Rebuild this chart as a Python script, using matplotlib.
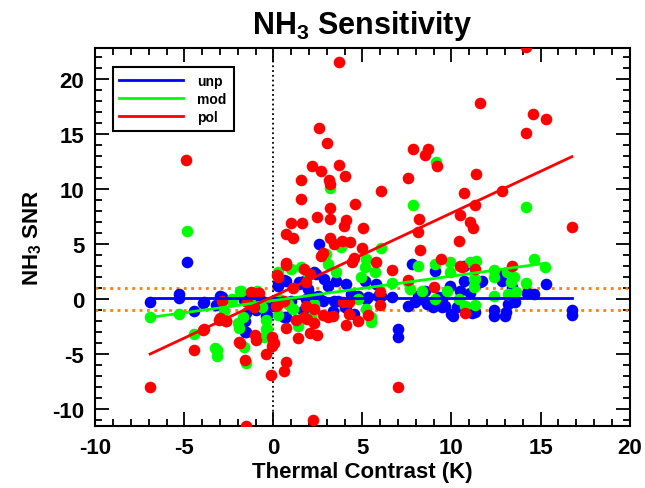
import numpy as np
import matplotlib
matplotlib.use('Agg')
import matplotlib.pyplot as plt
from matplotlib.ticker import MultipleLocator

plt.rcParams['font.family'] = ['Liberation Sans', 'DejaVu Sans']
plt.rcParams['font.weight'] = 'bold'
plt.rcParams['axes.unicode_minus'] = False
plt.rcParams['mathtext.fontset'] = 'custom'
plt.rcParams['mathtext.rm'] = 'Liberation Sans:bold'
plt.rcParams['mathtext.bf'] = 'Liberation Sans:bold'

# unpolluted
unp_x = [-6.93, -5.28, -5.28, -4.86, -4.49, -3.95, -3.22, -2.9, -1.66, -1.56, -1.6, -1.62,
         -1.0, -0.49, -0.38, 0.23, 0.03, -3.92, -2.98, -1.56, 0.6, 0.7, 1.41, 1.83, -0.43,
         -0.62, -1.0, 2.58, 0.7, 0.23, 1.45, 1.92, 2.39, 3.05, 3.52, 4.08, 5.12, 5.78, 4.37,
         4.75, 5.31, 6.06, 6.63, 3.62, 4.08, 3.33, 1.64, 0.98, 0.41, 2.77, 2.1, 6.97, 6.97,
         7.76, 7.57, 8.14, 8.5, 9.07, 9.27, 9.64, 10.11, 10.68, 10.3, 0.6, 10.68, 11.05,
         11.3, 11.6, 12.37, 12.37, 12.8, 12.84, 13.2, 13.03, 13.07, 13.56, 13.4, 14.25,
         14.63, 15.3, 16.76, 16.76, 9.92, 7.94, 8.32, 8.6, 8.98, 9.45, 9.45, 10.0, 10.49,
         10.49, 11.15, 11.7, 5.21, 3.99, 4.55, 3.42, 2.3, 2.86, 1.73, 2.49, 1.92, 5.87]
unp_y = [-0.2, 0.5, 0.1, 3.36, -1.1, -0.34, -0.5, 0.18, -0.06, -1.2, -2.0, -3.0,
         -0.97, -0.58, -1.43, 1.4, -0.64, -0.27, 0.33, -2.95, 1.8, -1.64, 1.55, 0.03, -1.49,
         -0.13, -0.52, 5.03, 1.7, 1.24, 1.4, 0.94, 2.3, 1.24, 1.7, 1.4, 1.7, 1.4, 0.48,
         0.33, 0.18, 0.33, 0.18, -0.13, -0.73, -1.04, -1.04, -0.13, -0.13, -0.13, 0.33, -2.7, -3.45,
         3.2, -0.58, 0.33, 0.78, 2.6, 0.18, -0.58, -1.5, 1.7, -0.73, -1.64, 3.0, 0.57,
         -1.12, 1.55, -0.97, -1.49, 2.3, 1.7, -0.43, -1.55, -1.12, -0.22, 1.1, 0.55,
         0.48, 1.4, -0.97, -1.43, 1.24, -0.27, 0.03, -0.43, -0.73, 0.03, -0.73, -1.34, 0.78,
         -0.58, -1.2, 1.7, 0.03, -0.73, -1.34, -0.13, 2.45, 1.85, 1.7, 0.33, -0.58, 0.33]

# moderately polluted
mod_x = [-6.93, -4.86, -5.28, -4.49, -3.2, -3.2, -2.79, -2.32, -2.0, -1.94, -1.89, -1.66,
         -1.53, -1.72, -1.32, -0.94, -0.4, -0.4, 0.23, 0.26, -0.62, -1.85, -2.32, 0.32,
         0.98, 1.54, 1.92, 1.36, 0.79, 1.07, -0.34, -0.53, -3.26, 2.95, 3.8, 3.05, 5.21,
         5.12, 5.68, 6.06, 3.52, 4.93, 6.63, 7.57, 2.3, 4.75, 5.21, 5.5, 5.5, 2.1, 1.55,
         8.14, 9.07, 9.92, 9.92, 11.24, 11.24, 9.73, 10.4, 7.66, 8.32, 9.07, 10.77,
         12.37, 13.12, 11.05, 11.39, 12.37, 12.37, 13.5, 13.37, 14.21, 14.63, 15.25, 11.3,
         11.33, 13.18, 13.6, 3.2, 9.13, 7.85, 14.2]
mod_y = [-1.64, 6.24, -1.34, -3.15, -4.6, -5.13, -1.04, -0.13, -2.18, -2.64, 0.78, -4.36,
         -5.82, -1.64, -0.27, 0.78, -2.7, -1.88, 2.5, -1.43, -0.73, 0.78, 0.03, 0.03,
         2.75, 2.9, 2.3, -2.4, -0.43, -0.88, -2.7, -3.45, -4.45, 4.12, 4.73, 3.2, 3.66,
         2.9, 2.45, 4.64, 2.45, 2.0, 1.48, 1.55, -0.43, 0.03, -0.88, -2.1, -1.64, -1.64, -1.8,
         3.05, 3.2, 3.42, 2.45, 1.85, 1.1, 0.78, 0.03, 0.94, 0.78, 0.03, -0.58,
         0.33, 2.45, 3.36, 3.5, 2.7, 2.05, 2.05, 1.55, 1.45, 3.66, 2.9, 1.85,
         -0.52, 0.48, 0.7, 10.1, 12.5, 8.6, 8.4]

# polluted
pol_x = [-4.9, 14.2, 3.67, 2.58, 3.0, 2.16, 2.69, 3.67, 1.54, 3.1, 3.16, 4.03, 6.06, 1.54,
         3.2, 4.6, 2.43, 3.18, 4.08, 0.98, 1.6, 3.95, 5.03, 7.85, 8.66, 8.5, 9.17, 7.57,
         10.7, 10.45, 11.05, 8.2, 8.1, 11.6, 14.6, 15.3, 14.2, 11.4, 12.84, 11.3, 11.2,
         16.76, -6.93, -4.49, -3.95, -3.07, -2.66, -2.9, -1.9, -1.6, -1.56, -1.06, -0.96,
         -0.4, -0.15, -0.1, 0.0, -1.28, -0.85, 0.13, 0.17, 0.7, 1.1, 3.2, 3.4, 3.86, 4.3,
         4.97, 8.23, 10.4, 9.4, 10.5, 5.74, 6.63, 9.04, 7.57, 0.69, 2.67, 2.8, 1.83, 1.07,
         0.23, 4.42, 4.55, 2.07, 1.73, 5.97, 6.0, 4.27, 5.3, 6.97, 2.2, 0.7, 0.6, 0.03,
         0.7, 1.36, 2.07, 2.45, 4.08, 4.75, 1.26, 1.73, 3.05, 3.33, 2.77, 2.3, 1.83, 2.3,
         0.6, 3.9, 4.27, 10.77, 11.3, 13.4, 10.6, 0.7, -0.8, 0.23, -1.1, -1.47, -3.0,
         -2.64, -3.9, -1.94, -0.1, 1.9]
pol_y = [12.7, 22.9, 21.6, 15.6, 14.2, 12.1, 11.7, 12.2, 10.8, 10.8, 10.5, 11.2, 9.8, 9.1,
         8.3, 8.7, 7.5, 7.3, 7.2, 6.9, 6.9, 6.7, 6.5, 13.7, 13.7, 13.1, 12.1, 11.0,
         9.7, 7.7, 7.05, 7.3, 6.15, 17.8, 16.8, 16.4, 15.1, 11.4, 9.8, 8.6, 6.5,
         6.6, -8.0, -4.6, -2.76, -1.85, -2.0, -0.18, -3.97, -5.5, -11.5, -3.25, -3.7,
         -5.0, -6.9, -3.45, -3.9, 0.7, 0.57, -0.6, 2.2, 5.9, 5.6, 5.6, 5.0, 5.3, 5.2,
         4.7, 4.5, 5.3, 3.7, 3.0, 3.36, 2.66, 1.15, 1.78, 3.27, 3.96, 4.2, 1.55, 1.0,
         2.05, 3.36, 3.73, 2.3, 2.75, 0.69, -0.5, -0.2, -1.43, -7.95, -11.0, -5.7, -6.5, -4.0,
         -2.6, -3.5, -3.06, -3.25, -2.34, -2.0, -1.85, -1.64, -1.64, -1.55, -1.43, -0.88, -0.58, -2.15,
         -0.13, -0.2, -1.34, -1.2, 2.8, 3.0, 2.9, 3.1, 0.57, -0.43, -0.73, -0.2, -1.7,
         -1.94, -2.7, -3.9, -4.2, -1.8]

# regression line end points
unp_fit_x = [-6.93, 16.76]
unp_fit_y = [0.15, 0.15]
mod_fit_x = [-6.93, 15.25]
mod_fit_y = [-1.64, 3.27]
pol_fit_x = [-6.93, 16.76]
pol_fit_y = [-4.97, 12.96]

fig = plt.figure(figsize=(6.45, 4.89), dpi=100)
ax = fig.add_axes([0.148, 0.127, 0.828, 0.772])

ms = 70
ax.scatter(unp_x, unp_y, s=ms, color='#0000ff', linewidths=0, zorder=3)
ax.scatter(mod_x, mod_y, s=ms, color='#00ff00', linewidths=0, zorder=3)
ax.scatter(pol_x, pol_y, s=ms, color='#ff0000', linewidths=0, zorder=3)

ax.plot(unp_fit_x, unp_fit_y, color='#0000ff', lw=2, label='unp', zorder=4)
ax.plot(mod_fit_x, mod_fit_y, color='#00ff00', lw=2, label='mod', zorder=4)
ax.plot(pol_fit_x, pol_fit_y, color='#ff0000', lw=2, label='pol', zorder=4)

ax.axhline(1, color='#ff8000', lw=2, ls=':', zorder=2)
ax.axhline(-1, color='#ff8000', lw=2, ls=':', zorder=2)
ax.axvline(0, color='black', lw=1.3, ls=':', zorder=2)

ax.set_xlim(-10, 20)
ax.set_ylim(-11.5, 22.8)
ax.xaxis.set_major_locator(MultipleLocator(5))
ax.xaxis.set_minor_locator(MultipleLocator(1))
ax.yaxis.set_major_locator(MultipleLocator(5))
ax.yaxis.set_minor_locator(MultipleLocator(1))
ax.tick_params(which='both', direction='in', top=True, right=True, width=1.3,
               labelsize=16, pad=8)
ax.tick_params(which='major', length=10)
ax.tick_params(which='minor', length=5)
for sp in ax.spines.values():
    sp.set_linewidth(1.5)

ax.set_title(r'NH$_\mathbf{3}$ Sensitivity', fontsize=22, fontweight='bold', pad=11)
ax.set_xlabel('Thermal Contrast (K)', fontsize=16, fontweight='bold', labelpad=2)
ax.set_ylabel(r'NH$_\mathbf{3}$ SNR', fontsize=16, fontweight='bold', labelpad=6)

leg = ax.legend(loc='upper left', bbox_to_anchor=(0.019, 0.97), fontsize=10,
                fancybox=False, edgecolor='black', framealpha=1, handlelength=4.6,
                borderpad=0.5, labelspacing=0.3, handletextpad=1.0)
leg.get_frame().set_linewidth(1.5)

fig.savefig('out.png', dpi=100)
